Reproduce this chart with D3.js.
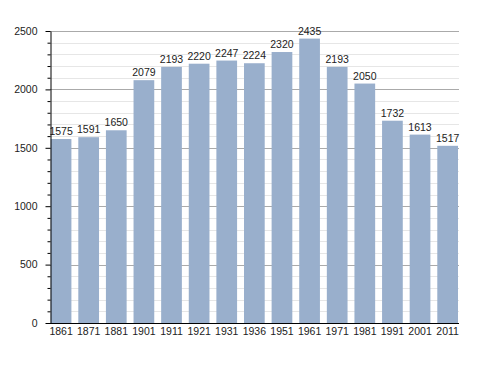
<!DOCTYPE html>
<html>
<head>
<meta charset="utf-8">
<script src="https://cdn.jsdelivr.net/npm/d3@7"></script>
<style>
  body { margin: 0; background: #fff; }
  text { font-family: "Liberation Sans", Arial, sans-serif; font-size: 10.5px; fill: #222; }
</style>
</head>
<body>
<div id="chart"></div>
<script>
// data
const years = ['1861', '1871', '1881', '1901', '1911', '1921', '1931', '1936', '1951', '1961', '1971', '1981', '1991', '2001', '2011']
const population = [1575, 1591, 1650, 2079, 2193, 2220, 2247, 2224, 2320, 2435, 2193, 2050, 1732, 1613, 1517]
const majorTicks = [0, 500, 1000, 1500, 2000, 2500]

const width = 488
const height = 373
const plotLeft = 50, plotRight = 458, plotTop = 31, plotBottom = 323
const barColor = '#99afcc'
const fontSize = '10.5px'

const svg = d3.select('#chart').append('svg')
  .attr('width', width)
  .attr('height', height)

const x = d3.scaleBand()
  .domain(years)
  .range([plotLeft + 0.7, plotRight])
  .paddingInner(0.25)
  .paddingOuter(0)

const y = d3.scaleLinear()
  .domain([0, 2500])
  .range([plotBottom, plotTop])

// minor grid every 100, major every 500
const minorTicks = d3.range(100, 2500, 100).filter(v => v % 500 !== 0)

svg.append('g')
  .selectAll('line')
  .data(minorTicks)
  .join('line')
    .attr('x1', plotLeft).attr('x2', plotRight + 1)
    .attr('y1', d => Math.round(y(d)) + 0.5).attr('y2', d => Math.round(y(d)) + 0.5)
    .attr('stroke', '#e6e6e6')

svg.append('g')
  .selectAll('line')
  .data(majorTicks.slice(1))
  .join('line')
    .attr('x1', plotLeft).attr('x2', plotRight + 1)
    .attr('y1', d => Math.round(y(d)) + 0.5).attr('y2', d => Math.round(y(d)) + 0.5)
    .attr('stroke', '#aaa')

// bars
svg.append('g')
  .selectAll('rect')
  .data(population)
  .join('rect')
    .attr('x', (d, i) => x(years[i]))
    .attr('y', d => y(d))
    .attr('width', x.bandwidth())
    .attr('height', d => y(0) - y(d))
    .attr('fill', barColor)

// value labels
svg.append('g')
  .selectAll('text')
  .data(population)
  .join('text')
    .attr('x', (d, i) => x(years[i]) + x.bandwidth() / 2)
    .attr('y', d => y(d) - 4)
    .attr('text-anchor', 'middle')
    .text(d => d)

// y axis: minor ticks
svg.append('g')
  .attr('transform', `translate(${plotLeft + 0.5},0)`)
  .call(d3.axisLeft(y).tickValues(minorTicks).tickSize(3).tickFormat(''))
  .call(g => g.select('.domain').remove())
  .call(g => g.selectAll('.tick line').attr('stroke', '#000'))

// y axis: major ticks + labels
svg.append('g')
  .attr('transform', `translate(${plotLeft + 0.5},0)`)
  .call(d3.axisLeft(y).tickValues(majorTicks).tickSize(5).tickSizeOuter(0).tickPadding(8).tickFormat(d3.format('d')))
  .call(g => g.select('.domain').attr('stroke', '#000'))
  .call(g => g.selectAll('.tick line').attr('stroke', '#000'))
  .call(g => g.selectAll('.tick text').style('font-size', fontSize).attr('fill', '#222'))

// x axis
svg.append('g')
  .attr('transform', `translate(0,${plotBottom + 0.5})`)
  .call(d3.axisBottom(x).tickSize(0).tickPadding(4))
  .call(g => g.select('.domain').attr('stroke', '#000').attr('d', `M${plotLeft},0H${plotRight + 1}`))
  .call(g => g.selectAll('.tick text').style('font-size', fontSize).attr('fill', '#222'))
</script>
</body>
</html>
